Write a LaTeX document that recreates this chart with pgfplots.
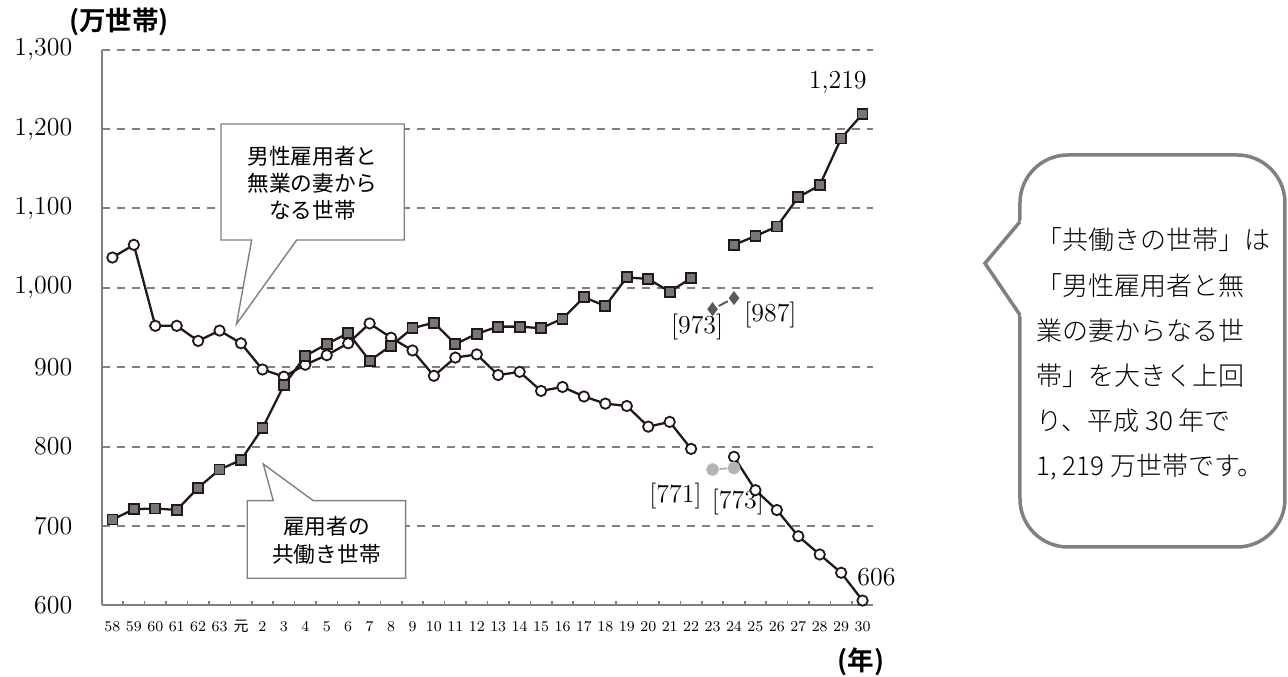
\documentclass[border=0pt]{standalone}
\usepackage{fontspec}
\usepackage{pgfplots}
\pgfplotsset{compat=1.18}
\newfontfamily\jp{Noto Sans CJK JP}
\newfontfamily\jpb{Noto Sans CJK JP Bold}
\newfontfamily\jpl{Noto Sans CJK JP Light}
\definecolor{dk}{HTML}{231815}
\definecolor{sq}{HTML}{777777}
\definecolor{grd}{HTML}{808080}
\definecolor{dia}{HTML}{5A5A5A}
\definecolor{lgc}{HTML}{B4B4B4}
\begin{document}
\begin{tikzpicture}
\useasboundingbox (0,0) rectangle (644bp,-338.5bp);
\begin{axis}[
  at={(50.85bp,-302.65bp)}, anchor=south west,
  scale only axis, width=385.8bp, height=277.9bp,
  xmin=-0.5, xmax=35.5, ymin=600, ymax=1300,
  clip=false,
  axis lines*=left,
  axis line style={grd, line width=1bp},
  xtick={0,...,35},
  xticklabels={58,59,60,61,62,63,{\jp 元},2,3,4,5,6,7,8,9,10,11,12,13,14,15,16,17,18,19,20,21,22,23,24,25,26,27,28,29,30},
  minor xtick={0.5,1.5,...,34.5},
  major tick length=0pt, minor tick length=2bp,
  tick style={grd, line width=0.8bp},
  ytick={600,700,...,1300},
  ymajorgrids,
  major grid style={grd, line width=1bp, dash pattern=on 4bp off 3.5bp},
  yticklabel style={font=\fontsize{13}{15}\selectfont, xshift=-11.2bp},
  xticklabel style={font=\fontsize{7.5}{9}\selectfont, text height=0.7em, text depth=0.2em, yshift=-5.1bp, inner sep=1pt},
  /pgf/number format/assume math mode=true,
  /pgf/number format/1000 sep={,},
  unbounded coords=jump,
]
% 男性雇用者と無業の妻からなる世帯
\addplot[dk, line width=1.15bp, mark=*, mark size=2.6bp, mark options={fill=white, line width=0.9bp}] coordinates {
(0,1038)(1,1054)(2,952)(3,952)(4,933)(5,946)(6,930)(7,897)(8,888)(9,903)
(10,915)(11,930)(12,955)(13,937)(14,921)(15,889)(16,912)(17,916)(18,890)(19,894)
(20,870)(21,875)(22,863)(23,854)(24,851)(25,825)(26,831)(27,797)(28,nan)
(29,787)(30,745)(31,720)(32,687)(33,664)(34,641)(35,606)};
% 雇用者の共働き世帯
\addplot[dk, line width=1.15bp, mark=square*, mark size=2.5bp, mark options={fill=sq, line width=0.9bp}] coordinates {
(0,708)(1,721)(2,722)(3,720)(4,748)(5,771)(6,783)(7,823)(8,877)(9,914)
(10,929)(11,943)(12,908)(13,927)(14,949)(15,956)(16,929)(17,942)(18,951)(19,951)
(20,949)(21,961)(22,988)(23,977)(24,1013)(25,1011)(26,995)(27,1012)(28,nan)
(29,1054)(30,1065)(31,1077)(32,1114)(33,1129)(34,1188)(35,1219)};
% 岩手・宮城・福島を除く
\addplot[dia, line width=1bp, shorten <=3.5bp, shorten >=3.5bp, mark=diamond*, mark size=2.7bp, mark options={fill=dia, draw=dia}] coordinates {(28,973)(29,987)};
\addplot[lgc, line width=1bp, shorten <=3.5bp, shorten >=3.5bp, mark=*, mark size=2.7bp, mark options={fill=lgc, draw=lgc}] coordinates {(28,771)(29,773)};
\begin{scope}[font=\fontsize{13}{15}\selectfont]
\node at (axis cs:33.84,1259) {1,219};
\node at (axis cs:35.65,636) {606};
\node at (axis cs:27.28,950.5) {[973]};
\node at (axis cs:30.70,965.6) {[987]};
\node at (axis cs:26.27,738) {[771]};
\node at (axis cs:29.18,730.5) {[773]};
\end{scope}
\end{axis}
\begin{scope}[x=0.5bp,y=-0.5bp]
% callout 1
\draw[grd, line width=0.7bp, fill=white] (221,124) -- (404.3,124) -- (404.3,240) -- (296.7,240) -- (236.5,324) -- (251.7,240) -- (221,240) -- cycle;
\node[font=\jp\fontsize{10.85bp}{13.3bp}\selectfont, align=center] at (312.5,183.3) {男性雇用者と\\無業の妻から\\なる世帯};
% callout 2
\draw[grd, line width=0.7bp, fill=white] (247.3,500.7) -- (273.3,500.7) -- (263.3,464) -- (313.3,500.7) -- (405.7,500.7) -- (405.7,578.3) -- (247.3,578.3) -- cycle;
\node[font=\jp\fontsize{10.85bp}{14bp}\selectfont, align=center] at (326.5,540) {雇用者の\\共働き世帯};
% axis labels
\node[font=\jpb\fontsize{13.3bp}{15bp}\selectfont] at (119,22) {(万世帯)};
\node[font=\jpb\fontsize{13.3bp}{15bp}\selectfont] at (861,662) {(年)};
% right rounded callout
\draw[grd, line width=1.75bp, fill=white, rounded corners=24bp] (1020,155) rectangle (1285,547);
\fill[white] (1022.5,219) -- (985,263.3) -- (1022.5,318) -- cycle;
\draw[grd, line width=1.75bp] (1020,221.7) -- (985,263.3) -- (1020,315);
\begin{scope}[font=\jpl\fontsize{13bp}{15bp}\selectfont]
\node[anchor=west, inner sep=0pt] at (1036,240) {「共働きの世帯」は};
\node[anchor=west, inner sep=0pt] at (1036,285.7) {「男性雇用者と無};
\node[anchor=west, inner sep=0pt] at (1036,331) {業の妻からなる世};
\node[anchor=west, inner sep=0pt] at (1036,375.7) {帯」を大きく上回};
\node[anchor=west, inner sep=0pt] at (1036,421) {り、平成 30 年で};
\node[anchor=west, inner sep=0pt] at (1036,466.7) {1, 219 万世帯です。};
\end{scope}
\end{scope}
\end{tikzpicture}
\end{document}
